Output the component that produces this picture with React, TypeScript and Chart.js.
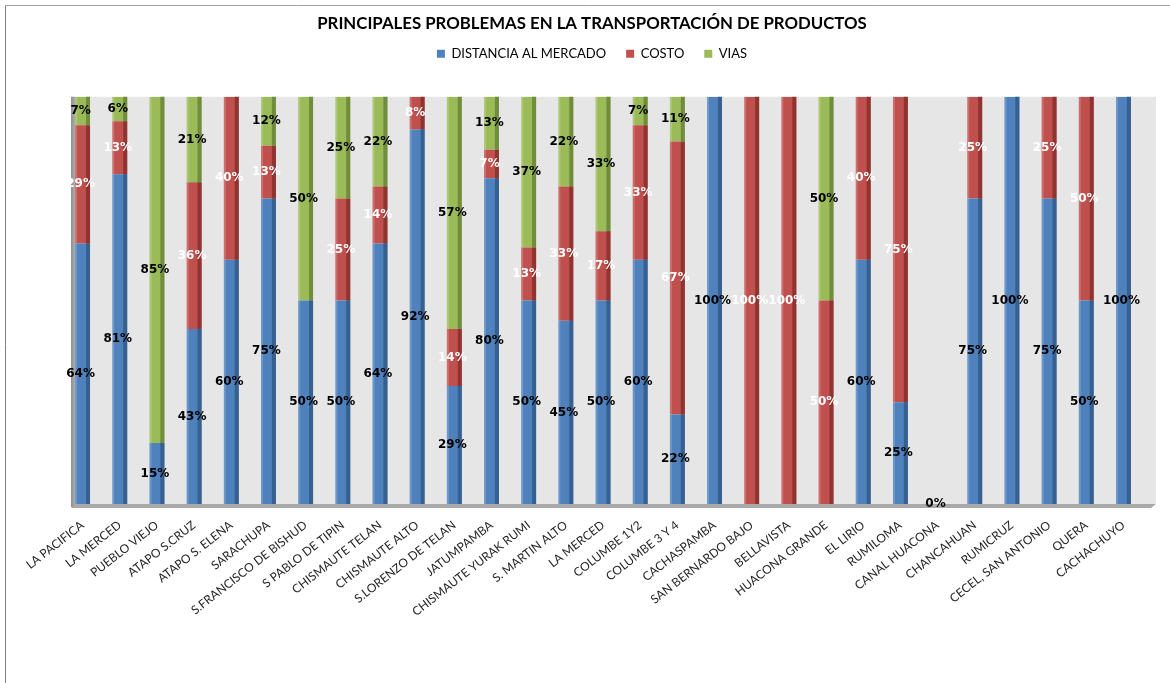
import React, { useEffect, useRef } from "react";
import { Chart, registerables } from "chart.js";

Chart.register(...registerables);

const chartTitle = "PRINCIPALES PROBLEMAS EN LA TRANSPORTACIÓN DE PRODUCTOS";
const seriesNames = ["DISTANCIA AL MERCADO", "COSTO", "VIAS"];

const categories = [
  "LA PACIFICA",
  "LA MERCED",
  "PUEBLO VIEJO",
  "ATAPO S.CRUZ",
  "ATAPO S. ELENA",
  "SARACHUPA",
  "S.FRANCISCO DE BISHUD",
  "S PABLO DE TIPIN",
  "CHISMAUTE TELAN",
  "CHISMAUTE ALTO",
  "S.LORENZO DE TELAN",
  "JATUMPAMBA",
  "CHISMAUTE YURAK RUMI",
  "S. MARTIN ALTO",
  "LA MERCED",
  "COLUMBE 1Y2",
  "COLUMBE 3 Y 4",
  "CACHASPAMBA",
  "SAN BERNARDO BAJO",
  "BELLAVISTA",
  "HUACONA GRANDE",
  "EL LIRIO",
  "RUMILOMA",
  "CANAL HUACONA",
  "CHANCAHUAN",
  "RUMICRUZ",
  "CECEL, SAN ANTONIO",
  "QUERA",
  "CACHACHUYO",
];

const distancia = [64, 81, 15, 43, 60, 75, 50, 50, 64, 92, 29, 80, 50, 45, 50, 60, 22, 100, null, null, null, 60, 25, 0, 75, 100, 75, 50, 100];
const costo = [29, 13, null, 36, 40, 13, null, 25, 14, 8, 14, 7, 13, 33, 17, 33, 67, null, 100, 100, 50, 40, 75, null, 25, null, 25, 50, null];
const vias = [7, 6, 85, 21, null, 12, 50, 25, 22, null, 57, 13, 37, 22, 33, 7, 11, null, null, null, 50, null, null, null, null, null, null, null, null];

const fillColors = ["#4F81BD", "#C0504D", "#9BBB59"];
const edgeColors = ["#35608F", "#8E3532", "#718C3C"];
const labelColors = ["#000000", "#FFFFFF", "#000000"];

const decorPlugin = {
  id: "decor",
  beforeDraw(chart: any) {
    const { ctx, chartArea: ca, width, height } = chart;
    ctx.save();
    ctx.fillStyle = "#ffffff";
    ctx.fillRect(0, 0, width, height);
    // outer frame
    ctx.lineWidth = 1;
    ctx.strokeStyle = "#a0a0a0";
    ctx.beginPath();
    ctx.moveTo(5.5, 5.5);
    ctx.lineTo(width, 5.5);
    ctx.stroke();
    ctx.strokeStyle = "#808080";
    ctx.beginPath();
    ctx.moveTo(5.5, 5.5);
    ctx.lineTo(5.5, height);
    ctx.stroke();
    // back wall
    const left = ca.left + 7;
    const right = ca.right + 14;
    ctx.fillStyle = "#e6e6e6";
    ctx.fillRect(left, ca.top, right - left, ca.bottom - ca.top);
    // side wall
    const g = ctx.createLinearGradient(left, 0, left + 5, 0);
    g.addColorStop(0, "#8f8f8f");
    g.addColorStop(1, "#b5b5b5");
    ctx.fillStyle = g;
    ctx.fillRect(left, ca.top, 5, ca.bottom - ca.top + 3);
    // floor
    ctx.fillStyle = "#a9a9a9";
    ctx.beginPath();
    ctx.moveTo(left, ca.bottom + 4);
    ctx.lineTo(right - 5, ca.bottom + 4);
    ctx.lineTo(right, ca.bottom);
    ctx.lineTo(left + 5, ca.bottom);
    ctx.closePath();
    ctx.fill();
    ctx.restore();
  },
};

const barDecorPlugin = {
  id: "barDecor",
  afterDatasetsDraw(chart: any) {
    const { ctx } = chart;
    ctx.save();
    chart.data.datasets.forEach((ds: any, di: number) => {
      const meta = chart.getDatasetMeta(di);
      meta.data.forEach((el: any, i: number) => {
        const v = ds.data[i];
        if (v == null || v === 0) return;
        const { x, y, base, width } = el.getProps(["x", "y", "base", "width"], true);
        const top = Math.min(y, base);
        const h = Math.abs(base - y);
        ctx.fillStyle = edgeColors[di];
        ctx.fillRect(x + width / 2 - 4, top, 4, h);
        ctx.fillStyle = "rgba(255,255,255,0.18)";
        ctx.fillRect(x - width / 2, top, 2, h);
      });
    });
    // labels
    ctx.font = "bold 12px 'DejaVu Sans'";
    ctx.textAlign = "center";
    ctx.textBaseline = "middle";
    chart.data.datasets.forEach((ds: any, di: number) => {
      const meta = chart.getDatasetMeta(di);
      meta.data.forEach((el: any, i: number) => {
        const v = ds.data[i];
        if (v == null) return;
        const { x, y, base } = el.getProps(["x", "y", "base"], true);
        ctx.fillStyle = labelColors[di];
        ctx.fillText(v + "%", x - 2, (y + base) / 2);
      });
    });
    ctx.restore();
  },
};

export default function App() {
  const ref = useRef<HTMLCanvasElement | null>(null);

  useEffect(() => {
    document.body.style.margin = "0";
    const canvas = ref.current;
    if (!canvas) return;
    const seriesData = [distancia, costo, vias];
    const chart = new Chart(canvas, {
      type: "bar",
      data: {
        labels: categories,
        datasets: seriesNames.map((name, i) => ({
          label: name,
          data: seriesData[i],
          backgroundColor: fillColors[i],
          borderWidth: 0,
          barPercentage: 0.4,
          categoryPercentage: 1.0,
        })),
      },
      options: {
        responsive: false,
        animation: false,
        events: [],
        layout: { padding: { left: 42, right: 28, top: 4, bottom: 0 } },
        plugins: {
          title: {
            display: true,
            text: chartTitle,
            color: "#000000",
            font: { family: "Lato", size: 16.8, weight: "bold", lineHeight: 1 },
            padding: { top: 11.5, bottom: -5 },
          },
          subtitle: {
            display: true,
            text: " ",
            weight: 500,
            font: { size: 10, lineHeight: 1 },
            padding: { top: 16.5, bottom: 0 },
          },
          legend: {
            display: true,
            position: "top",
            labels: {
              boxWidth: 8,
              boxHeight: 8,
              padding: 20,
              color: "#000000",
              font: { family: "Lato", size: 13 },
            },
          },
          tooltip: { enabled: false },
        },
        scales: {
          x: {
            stacked: true,
            grid: { display: false },
            border: { display: false },
            ticks: {
              autoSkip: false,
              maxRotation: 38,
              minRotation: 38,
              padding: 6,
              color: "#262626",
              font: { family: "Lato", size: 12 },
            },
            afterFit(scale: any) {
              scale.height = 179;
            },
          },
          y: {
            stacked: true,
            display: true,
            min: 0,
            max: 100,
            grid: { display: false },
            border: { display: false },
            ticks: { display: false },
            afterFit(scale: any) {
              scale.width = 22;
            },
          },
        },
      },
      plugins: [decorPlugin, barDecorPlugin],
    });
    return () => chart.destroy();
  }, []);

  return (
    <div style={{ width: 1170, height: 683 }}>
      <canvas ref={ref} width={1170} height={683} />
    </div>
  );
}
